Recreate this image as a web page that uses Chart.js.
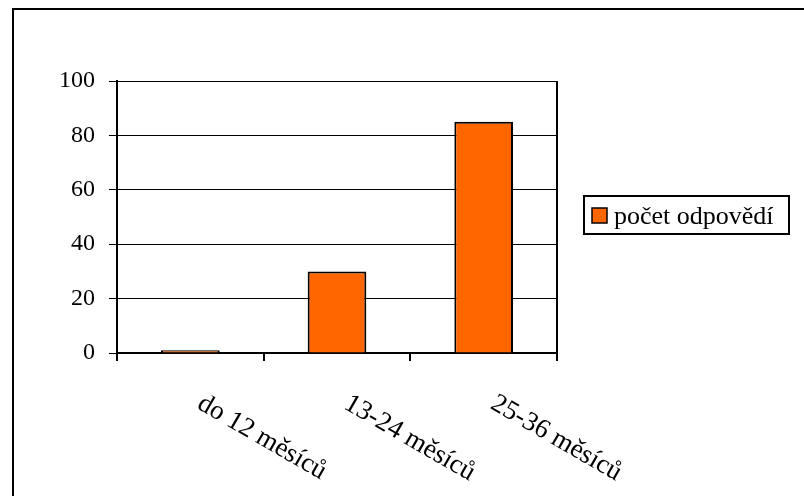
<!DOCTYPE html>
<html>
<head>
<meta charset="utf-8">
<script src="https://cdn.jsdelivr.net/npm/chart.js@4/dist/chart.umd.min.js"></script>
<style>
  html, body { margin: 0; padding: 0; background: #fff; }
  #wrap { width: 804px; height: 496px; position: relative; }
</style>
</head>
<body>
<div id="wrap"><canvas id="myChart" width="804" height="496"></canvas></div>
<script>
// data
const categories = ['do 12 měsíců', '13-24 měsíců', '25-36 měsíců'];
const seriesName = 'počet odpovědí';
const seriesValues = [1, 30, 85];
const yTicks = [0, 20, 40, 60, 80, 100];

const FONT = '"Liberation Serif", "Times New Roman", serif';
const ORANGE = '#FF6600';

// frame, plot border, rotated x labels and the boxed legend
const decoPlugin = {
  id: 'deco',
  afterDraw(chart) {
    const ctx = chart.ctx;
    const area = chart.chartArea;
    const xs = chart.scales.x;
    ctx.save();

    // outer frame (only left/top visible in the reference)
    ctx.strokeStyle = '#000';
    ctx.lineWidth = 2;
    ctx.strokeRect(13, 9, 900, 600);

    // plot area right border
    ctx.beginPath();
    ctx.moveTo(area.right, area.top);
    ctx.lineTo(area.right, area.bottom);
    ctx.stroke();

    // x labels, rotated clockwise
    ctx.fillStyle = '#000';
    ctx.font = '27px ' + FONT;
    ctx.textAlign = 'left';
    ctx.textBaseline = 'top';
    chart.data.labels.forEach((lab, i) => {
      const x = xs.getPixelForTick(i);
      ctx.save();
      ctx.translate(x + 16, area.bottom + 37);
      ctx.rotate(30 * Math.PI / 180);
      ctx.fillText(lab, 0, 0);
      ctx.restore();
    });

    // legend
    ctx.lineWidth = 2;
    ctx.strokeRect(584, 196, 205, 38);
    ctx.fillStyle = ORANGE;
    ctx.fillRect(592, 208, 15, 15);
    ctx.lineWidth = 1.5;
    ctx.strokeRect(592, 208, 15, 15);
    ctx.fillStyle = '#000';
    ctx.font = '26px ' + FONT;
    ctx.textBaseline = 'alphabetic';
    ctx.fillText(chart.data.datasets[0].label, 614, 224);

    ctx.restore();
  }
};

const ctx = document.getElementById('myChart').getContext('2d');
const myChart = new Chart(ctx, {
  type: 'bar',
  data: {
    labels: categories,
    datasets: [{
      label: seriesName,
      data: seriesValues,
      backgroundColor: ORANGE,
      borderColor: '#000',
      borderWidth: 2,
      categoryPercentage: 1,
      barPercentage: 0.4
    }]
  },
  options: {
    responsive: false,
    animation: false,
    layout: { padding: { left: 17, right: 247, top: 81, bottom: 0 } },
    plugins: {
      legend: { display: false },
      tooltip: { enabled: false }
    },
    scales: {
      x: {
        offset: true,
        grid: {
          display: true,
          offset: true,
          drawOnChartArea: false,
          drawTicks: true,
          tickLength: 8,
          color: '#000',
          lineWidth: 2
        },
        border: { display: true, color: '#000', width: 2 },
        ticks: { display: false },
        afterFit(scale) { scale.height = 143; }
      },
      y: {
        min: 0,
        max: 100,
        afterBuildTicks(scale) { scale.ticks = yTicks.map(v => ({ value: v })); },
        grid: {
          color: '#000',
          lineWidth: 1,
          drawTicks: true,
          tickLength: 8
        },
        border: { display: true, color: '#000', width: 2 },
        ticks: {
          color: '#000',
          font: { family: FONT, size: 24 },
          padding: 14
        },
        afterFit(scale) { scale.width = 100; }
      }
    }
  },
  plugins: [decoPlugin]
});
</script>
</body>
</html>
